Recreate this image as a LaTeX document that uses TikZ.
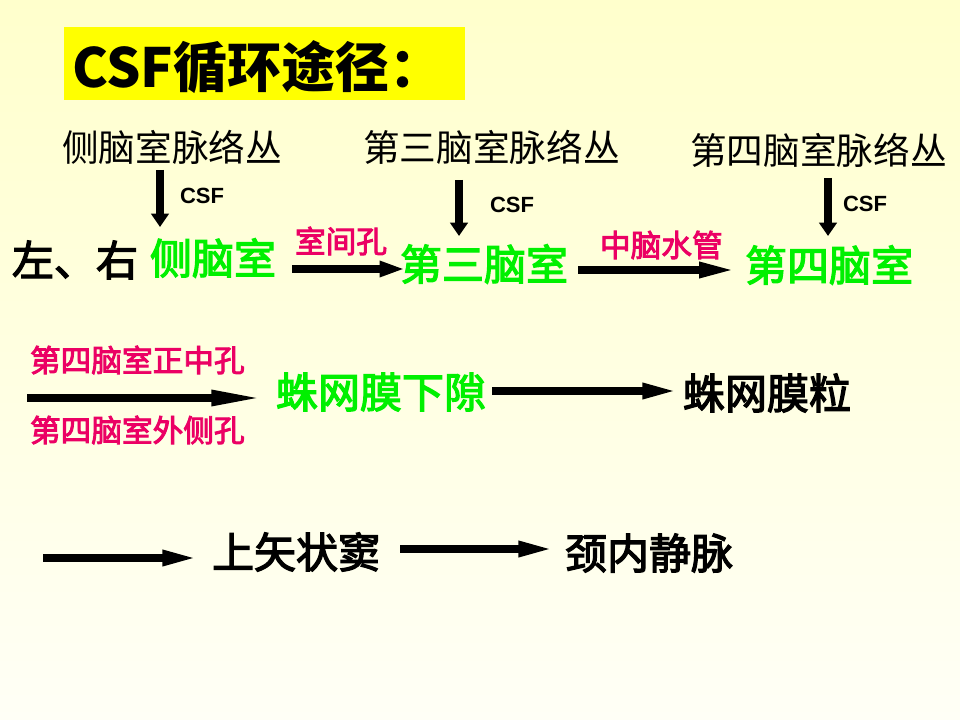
\documentclass[tikz,border=0pt]{standalone}
\usepackage{fontspec}
\newfontfamily\cjk{Noto Sans CJK SC}
\newfontfamily\cjkm{Noto Sans CJK SC}[FakeBold=3]
\newfontfamily\arial{Liberation Sans}
\usetikzlibrary{arrows.meta}
\definecolor{bgtop}{RGB}{255,255,204}
\definecolor{bgbot}{RGB}{255,255,246}
\definecolor{ttl}{RGB}{255,255,0}
\definecolor{grn}{RGB}{0,240,0}
\definecolor{mag}{RGB}{235,0,100}
\begin{document}
\begin{tikzpicture}[x=0.75pt,y=-0.75pt,
 every node/.style={inner sep=0pt, outer sep=0pt, anchor=west},
 plex/.style={font=\cjk\fontsize{27.5}{30}\selectfont},
 big/.style={font=\cjkm\fontsize{31.5}{34}\selectfont},
 gbig/.style={big, text=grn},
 lbl/.style={font=\cjkm\fontsize{23}{26}\selectfont, text=mag},
 csf/.style={font=\arial\bfseries\fontsize{16.5}{18}\selectfont},
 harrow/.style={line width=5.3pt,-{Triangle[length=#1,width=11pt]}},
 harrow/.default=26pt,
 varrow/.style={line width=6pt,-{Triangle[length=10pt,width=13pt]}}]
\useasboundingbox (0,0) rectangle (960,720);
\shade[top color=bgtop, bottom color=bgbot] (0,0) rectangle (960,720);
% title
\fill[ttl] (64,27) rectangle (465,100);
\node[font=\cjk\bfseries\fontsize{40.5}{44}\selectfont] (title) at (72,67) {CSF循环途径：};
% row 1
\node[plex] (p1) at (62,147) {侧脑室脉络丛};
\node[plex] (p3) at (363,147) {第三脑室脉络丛};
\node[plex] (p4) at (690,150) {第四脑室脉络丛};
\coordinate (d1a) at (160,170); \coordinate (d1b) at (160,227);
\coordinate (d3a) at (459,180); \coordinate (d3b) at (459,236);
\coordinate (d4a) at (828,178); \coordinate (d4b) at (828,236);
\draw[varrow] (d1a) -- (d1b);
\draw[varrow] (d3a) -- (d3b);
\draw[varrow] (d4a) -- (d4b);
\node[csf] (c1) at (180,196) {CSF};
\node[csf] (c3) at (490,205) {CSF};
\node[csf] (c4) at (843,204) {CSF};
% row 2
\node[big] (lr) at (12,260) {左、右};
\node[gbig] (lv) at (150,258) {侧脑室};
\node[lbl] (ivf) at (295,241) {室间孔};
\node[gbig] (v3) at (400,264) {第三脑室};
\node[lbl] (aq) at (600,245) {中脑水管};
\node[gbig] (v4) at (745,265) {第四脑室};
\coordinate (a1a) at (292,269); \coordinate (a1b) at (405,269);
\coordinate (a2a) at (578,270); \coordinate (a2b) at (735,270);
\draw[harrow=19pt] (a1a) -- (a1b);
\draw[harrow=27pt] (a2a) -- (a2b);
% row 3
\node[lbl] (mf) at (30,360) {第四脑室正中孔};
\node[lbl] (lf) at (30,430) {第四脑室外侧孔};
\node[gbig] (sas) at (276,392) {蛛网膜下隙};
\node[big] (ag) at (683,393) {蛛网膜粒};
\coordinate (a3a) at (27,398); \coordinate (a3b) at (262,398);
\coordinate (a4a) at (492,391); \coordinate (a4b) at (677,391);
\draw[harrow=38pt] (a3a) -- (a3b);
\draw[harrow] (a4a) -- (a4b);
% row 4
\node[big] (sss) at (212,552) {上矢状窦};
\node[big] (ijv) at (565,553) {颈内静脉};
\coordinate (a5a) at (43,558); \coordinate (a5b) at (197,558);
\coordinate (a6a) at (400,549); \coordinate (a6b) at (553,549);
\draw[harrow] (a5a) -- (a5b);
\draw[harrow] (a6a) -- (a6b);
\end{tikzpicture}
\end{document}
